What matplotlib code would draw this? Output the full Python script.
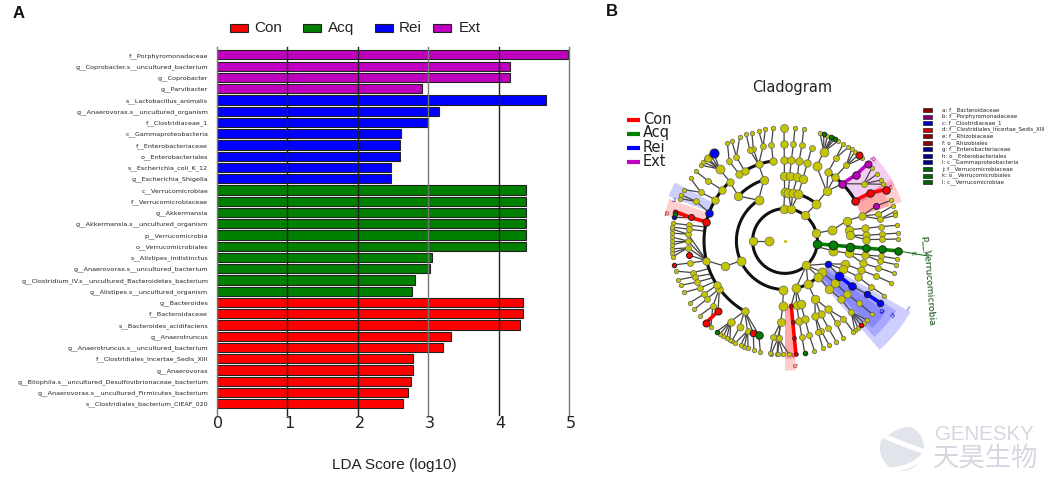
import numpy as np
import matplotlib
matplotlib.use("Agg")
import matplotlib.pyplot as plt
from matplotlib.patches import Rectangle, Ellipse, PathPatch
from matplotlib.path import Path
from matplotlib.transforms import ScaledTranslation

W, H = 1059, 478
COL = {"Con": "#ff0000", "Acq": "#008000", "Rei": "#0000ff", "Ext": "#bf00bf"}

# ---------- panel A data (top to bottom) ----------
taxa = ["f__Porphyromonadaceae", "g__Coprobacter.s__uncultured_bacterium", "g__Coprobacter", "g__Parvibacter",
        "s__Lactobacillus_animalis", "g__Anaerovorax.s__uncultured_organism", "f__Clostridiaceae_1",
        "c__Gammaproteobacteria", "f__Enterobacteriaceae", "o__Enterobacteriales", "s__Escherichia_coli_K_12",
        "g__Escherichia_Shigella", "c__Verrucomicrobiae", "f__Verrucomicrobiaceae", "g__Akkermansia",
        "g__Akkermansia.s__uncultured_organism", "p__Verrucomicrobia", "o__Verrucomicrobiales",
        "s__Alistipes_indistinctus", "g__Anaerovorax.s__uncultured_bacterium",
        "g__Clostridium_IV.s__uncultured_Bacteroidetes_bacterium", "g__Alistipes.s__uncultured_organism",
        "g__Bacteroides", "f__Bacteroidaceae", "s__Bacteroides_acidifaciens", "g__Anaerotruncus",
        "g__Anaerotruncus.s__uncultured_bacterium", "f__Clostridiales_Incertae_Sedis_XIII", "g__Anaerovorax",
        "g__Bilophila.s__uncultured_Desulfovibrionaceae_bacterium",
        "g__Anaerovorax.s__uncultured_Firmicutes_bacterium", "s__Clostridiales_bacterium_CIEAF_020"]
lda = [4.99, 4.17, 4.17, 2.91, 4.67, 3.15, 3.0, 2.62, 2.60, 2.60, 2.48, 2.47,
       4.39, 4.39, 4.39, 4.39, 4.39, 4.39, 3.06, 3.03, 2.82, 2.77,
       4.35, 4.35, 4.31, 3.33, 3.21, 2.79, 2.79, 2.76, 2.71, 2.65]
group = ["Ext"] * 4 + ["Rei"] * 8 + ["Acq"] * 10 + ["Con"] * 10
xticks = [0, 1, 2, 3, 4, 5]
xtick_cols = ["#777777", "#222222", "#222222", "#777777", "#222222", "#777777"]
legend_names = ["Con", "Acq", "Rei", "Ext"]

# ---------- panel B data: angle (deg clockwise from north), level ----------
Y, R, G, B, M = "y", "r", "g", "b", "m"
chains = [
    (Y, [(270, 2), (270, 1)]), (Y, [(270, 2), (270, 2)]),
    # top
    (Y, [(358, 2), (358, 2), (359.5, 3), (359.5, 4), (359.5, 5), (359.5, 6), (359.5, 7)]),
    (Y, [(11, 2), (11, 2)]),
    (Y, [(11, 2), (4, 3), (4, 4), (4.5, 5), (5, 6), (5, 7)]),
    (Y, [(11, 2), (9, 3), (11, 4), (10, 5), (10, 6), (9.5, 7)]),
    (Y, [(11, 2), (16, 3), (16, 4), (16, 5), (16, 6)]),
    (Y, [(38, 2), (38, 2), (40, 3), (40, 4)]),
    (Y, [(40, 4), (23, 5), (23.5, 6)]),
    (Y, [(23.5, 6), (18, 7)]), (Y, [(23.5, 6), (22, 7)]), (Y, [(23.5, 6), (25, 7)]), (Y, [(23.5, 6), (28, 7)]),
    (G, [(23.5, 6), (20, 7)]), (G, [(23.5, 6), (24, 7)]), (G, [(23.5, 6), (26, 7)]),
    (Y, [(40, 4), (32, 5), (31.5, 6), (31, 7)]), (Y, [(31.5, 6), (34, 7)]),
    (Y, [(40, 4), (38, 5), (39, 6)]),
    (Y, [(39, 6), (36, 7)]), (Y, [(39, 6), (38, 7)]), (Y, [(39, 6), (43, 7)]), (R, [(39, 6), (40.5, 7)]),
    (M, [(40, 4), (45, 5), (47, 6), (47, 7)]),
    (Y, [(45, 5), (54, 6)]),
    (Y, [(54, 6), (50, 7)]), (Y, [(54, 6), (54, 7)]), (Y, [(54, 6), (57.5, 7)]), (Y, [(54, 6), (60, 7)]),
    (R, [(45, 5), (60, 5), (60.5, 6), (63, 7)]),
    # right
    (Y, [(76, 2), (76, 2), (77, 3), (72, 4), (72, 5)]),
    (Y, [(72, 5), (74, 6), (72, 7)]), (Y, [(72, 5), (77, 6), (75, 7)]), (Y, [(77, 6), (77, 7)]),
    (M, [(72, 5), (69, 6)]), (Y, [(69, 6), (69, 7)]),
    (Y, [(72, 4), (80, 4), (81, 5), (81.5, 6), (82, 7)]),
    (Y, [(72, 4), (85, 4), (86, 5), (86, 6), (86, 7)]),
    (Y, [(85, 4), (89, 5), (89, 6), (89, 7)]),
    (G, [(95, 2), (95, 2), (95, 3), (95, 4), (95, 5), (95, 6), (95, 7)]),
    # lower right
    (Y, [(100, 2), (101.5, 3), (101, 4), (100, 5), (99, 6), (99, 7)]),
    (Y, [(100, 5), (102, 6), (102, 7)]),
    (Y, [(101, 4), (106, 5), (106, 6), (106.5, 7)]),
    (Y, [(139, 2), (139, 2)]),
    (B, [(139, 2), (118, 3)]),
    (Y, [(118, 3), (111, 4), (111, 5), (111, 6), (111.5, 7)]),
    (Y, [(118, 3), (116, 4), (116, 5), (118, 6), (118.8, 7)]),
    (B, [(118, 3), (123, 4), (124, 5)]),
    (B, [(124, 5), (123, 6), (123, 7)]),
    (Y, [(139, 2), (130, 3), (130, 4), (130.5, 5), (130, 6), (130, 7)]),
    (Y, [(139, 2), (137, 3), (137.6, 4), (136, 5), (137, 6)]),
    (Y, [(137, 6), (134, 7)]), (Y, [(137, 6), (136, 7)]), (Y, [(137, 6), (140, 7)]), (Y, [(137, 6), (142, 7)]),
    (R, [(137, 6), (138, 7)]),
    (Y, [(139, 2), (152, 3), (152.6, 4)]),
    (Y, [(152.6, 4), (147.6, 5), (143, 6), (143, 7)]), (Y, [(147.6, 5), (148, 6), (149, 7)]),
    (Y, [(152.6, 4), (154, 5), (153.5, 6), (153, 7)]),
    (Y, [(152.6, 4), (158, 5), (158, 6), (157, 7)]), (Y, [(158, 5), (160, 6), (160.5, 7)]),
    (Y, [(139, 2), (167, 3), (169.7, 4), (170, 5), (170, 6)]), (G, [(170, 6), (170, 7)]),
    (Y, [(167, 3), (166, 4), (165.6, 5), (165.6, 6), (165, 7)]),
    (R, [(167, 3), (174.5, 4), (174.5, 5), (174.5, 6), (174.5, 7)]),
    # bottom
    (Y, [(182, 3), (182, 3), (182, 4), (183, 5), (184, 6)]),
    (Y, [(184, 6), (178, 7)]), (Y, [(184, 6), (181, 7)]), (Y, [(184, 6), (184, 7)]), (Y, [(184, 6), (187, 7)]),
    (Y, [(183, 5), (187, 6), (187.5, 7)]),
    (Y, [(210, 5), (210, 5)]),
    (Y, [(210, 5), (207.8, 6), (208, 7)]),
    (Y, [(210, 5), (214, 6)]),
    (Y, [(214, 6), (209, 7)]), (Y, [(214, 6), (211, 7)]), (Y, [(214, 6), (213, 7)]), (Y, [(214, 6), (215, 7)]),
    (G, [(214, 6), (217, 7)]),
    (Y, [(210, 5), (202.6, 6)]),
    (Y, [(202.6, 6), (199, 7)]), (Y, [(202.6, 6), (201, 7)]), (Y, [(202.6, 6), (203, 7)]), (Y, [(202.6, 6), (206, 7)]),
    (R, [(210, 5), (199, 6)]), (Y, [(199, 6), (196, 7)]),
    (G, [(210, 5), (195.6, 6)]), (Y, [(195.6, 6), (192.6, 7)]),
    (Y, [(183, 5), (183.7, 6), (183.6, 7)]),
    # lower left
    (R, [(234, 5), (223.6, 6), (224, 7)]),
    (Y, [(234, 5), (228, 6), (228.8, 7)]), (Y, [(228, 6), (220.8, 7)]),
    (Y, [(237, 5), (236.8, 6), (237, 7)]), (Y, [(234, 5), (233.4, 6), (233, 7)]),
    (Y, [(234, 5), (234, 5)]), (Y, [(237, 5), (237, 5)]),
    (Y, [(246, 3), (246, 3), (247, 4), (256, 5)]),
    (Y, [(256, 5), (257, 6)]),
    (R, [(256, 5), (261.7, 6)]), (R, [(257, 6), (257.8, 7)]),
    (Y, [(250, 5), (251, 6), (254.6, 7)]), (Y, [(246, 5), (248.5, 6), (250, 7)]),
    (Y, [(243, 5), (245, 6), (247, 7)]), (Y, [(240, 5), (241, 6), (243, 7)]),
    (Y, [(256, 5), (266, 6)]), (Y, [(266, 6), (262, 7)]), (Y, [(266, 6), (264, 7)]), (Y, [(266, 6), (266, 7)]),
    (Y, [(256, 5), (270, 6)]), (Y, [(270, 6), (268, 7)]), (Y, [(270, 6), (270, 7)]), (Y, [(270, 6), (272, 7)]),
    (Y, [(256, 5), (274, 6)]), (Y, [(274, 6), (274, 7)]), (Y, [(274, 6), (276, 7)]),
    # upper left
    (Y, [(280, 5), (279.4, 6), (279, 7)]), (Y, [(277, 5), (277, 6), (277, 7)]),
    (R, [(283.6, 5), (283.6, 5), (284, 6), (285, 7)]),
    (B, [(284, 6), (282, 7)]), (G, [(284, 6), (284, 7)]),
    (B, [(290.5, 5), (290.5, 5)]),
    (Y, [(290.5, 5), (294, 6), (292, 7)]), (Y, [(294, 6), (294, 7)]),
    (Y, [(300.7, 5), (300.7, 5), (300, 6), (297, 7)]), (Y, [(300, 6), (303.6, 7)]),
    (Y, [(309, 5), (309, 5), (308, 6), (308, 7)]),
    (Y, [(327, 3), (327, 3), (314, 4)]),
    (Y, [(314, 4), (317, 5), (317.7, 6)]),
    (Y, [(317.7, 6), (312, 7)]), (Y, [(317.7, 6), (314, 7)]), (Y, [(317.7, 6), (316, 7)]),
    (Y, [(317.7, 6), (317, 7)]), (Y, [(317.7, 6), (319, 7)]), (B, [(317.7, 6), (321, 7)]),
    (Y, [(327, 3), (341, 4), (341, 5), (341, 6), (343, 7)]),
    (Y, [(325.7, 5), (325.7, 5), (325, 6), (329.5, 7)]),
    (Y, [(330, 5), (330, 5), (330, 6), (332, 7)]), (Y, [(330, 6), (336.5, 7)]),
    (Y, [(341, 5), (338.8, 6), (340, 7)]),
    (Y, [(341, 5), (347, 6), (346.6, 7)]), (Y, [(347, 6), (350, 7)]),
    (Y, [(351.5, 5), (351.5, 5), (352, 6), (354, 7)]),
]
arcs = [(2, 0, 360), (3, 182, 327), (3, 0, 40), (3, 130, 167), (4, 314, 341), (4, 72, 85),
        (5, 210, 283.6), (5, 283.6, 317), (5, 325.7, 351.5), (5, 32, 60)]
# wedge: group, angle start, angle end, inner level, outer level
wedges = [("Rei", 119.5, 139, 3.0, 8.9), ("Rei", 122, 137, 3.0, 8.1), ("Rei", 125, 135, 3.0, 7.6),
          ("Ext", 46, 63, 4.95, 7.6),
          ("Con", 60, 71.5, 4.95, 7.6), ("Con", 60, 71.5, 4.95, 6.8),
          ("Rei", 291, 298, 5.0, 7.7),
          ("Con", 282, 290, 5.0, 7.6),
          ("Con", 175, 180, 4.0, 8.0), ("Con", 175, 180, 4.0, 7.3)]
wedge_labels = [("i", 119, 8.6, "#0000aa"), ("h", 125, 8.0, "#0000aa"), ("g", 126, 7.3, "#0000aa"),
                ("a", 176, 7.0, "#aa0000"), ("b", 176, 7.7, "#aa0000"), ("c", 291, 7.3, "#0000aa"),
                ("d", 284, 7.5, "#aa0000"), ("e", 63, 7.3, "#aa0000"), ("b", 47, 7.45, "#aa00aa")]
key_labels = ["a: f__Bacteroidaceae", "b: f__Porphyromonadaceae", "c: f__Clostridiaceae_1",
              "d: f__Clostridiales_Incertae_Sedis_XIII", "e: f__Rhizobiaceae", "f: o__Rhizobiales",
              "g: f__Enterobacteriaceae", "h: o__Enterobacteriales", "i: c__Gammaproteobacteria",
              "j: f__Verrucomicrobiaceae", "k: o__Verrucomicrobiales", "l: c__Verrucomicrobiae"]
key_cols = ["#8b0000", "#800080", "#0000c0", "#cc0000", "#8b0000", "#8b0000",
            "#00008b", "#00008b", "#00008b", "#006400", "#006400", "#006400"]
level_diam = {0: 1.5, 1: 9, 2: 8.5, 3: 9, 4: 8.5, 5: 7.5, 6: 6, 7: 4.5}
big = {(23.5, 6): 9, (23, 5): 9, (317.7, 6): 9, (321, 7): 9, (317, 7): 7.5, (184, 6): 7, (183, 5): 8,
       (182, 4): 9, (95, 7): 7.5, (95, 6): 7.5, (47, 6): 7.5, (47, 7): 7, (60.5, 6): 7.5, (63, 7): 7.5,
       (40.5, 7): 7, (223.6, 6): 7, (224, 7): 7, (207.8, 6): 7, (199, 6): 6.5, (195.6, 6): 7.5, (214, 6): 7.5,
       (359.5, 7): 8, (359.5, 6): 7.5, (359.5, 5): 7.5, (123, 7): 6.5, (123, 6): 6.5, (174.5, 7): 3.5,
       (174.5, 6): 3.5, (174.5, 5): 3.5, (174.5, 4): 3.5, (118, 3): 6.5}
fill = {Y: "#c4c400", R: "#ff0000", G: "#008000", B: "#0000ff", M: "#bf00bf"}

# ---------- figure ----------
fig = plt.figure(figsize=(W / 100, H / 100), dpi=100)


def rect(x0, y0, x1, y1):
    return [x0 / W, 1 - y1 / H, (x1 - x0) / W, (y1 - y0) / H]


# panel A
ax = fig.add_axes(rect(216.5, 47, 569, 415))
ypos = np.arange(len(taxa))
ax.barh(ypos, lda, height=0.82, color=[COL[g] for g in group], edgecolor="#222222", linewidth=0.8, zorder=2)
ax.set_ylim(len(taxa), -0.7)
ax.set_xlim(0, 5)
for t, c in zip(xticks, xtick_cols):
    ax.axvline(t, color=c, lw=1.0, zorder=3, clip_on=False)
ax.set_yticks(ypos, taxa, fontsize=4.6, color="#222222")
ax.set_xticks(xticks)
ax.tick_params(axis="both", length=0)
ax.tick_params(axis="x", labelsize=11.5, pad=1, labelcolor="#222222")
ax.tick_params(axis="y", pad=6)
shift = ScaledTranslation(2 / 100, 0, fig.dpi_scale_trans)
for lab in ax.get_xticklabels():
    lab.set_transform(lab.get_transform() + shift)
for s in ax.spines.values():
    s.set_visible(False)

# panel B
pax = fig.add_axes(rect(785 - 154, 241 - 154, 785 + 154, 241 + 154), projection="polar")
pax.set_theta_zero_location("N")
pax.set_theta_direction(-1)
pax.set_rlim(0, 154 / 16.2)
pax.set_axis_off()
for g, a0, a1, r0, r1 in wedges:
    pax.bar(np.radians((a0 + a1) / 2), r1 - r0, width=np.radians(a1 - a0), bottom=r0,
            color=COL[g], alpha=0.19, linewidth=0, zorder=1)
for lev, a0, a1 in arcs:
    th = np.radians(np.linspace(a0, a1, 200))
    pax.plot(th, np.full_like(th, lev), color="#111111", lw=2.2, zorder=3)
for col, pts in chains:
    ang = np.radians([p[0] for p in pts])
    lev = [p[1] for p in pts]
    pax.plot(ang, lev, color="#444444", lw=0.9, zorder=2.5)
    if col != Y and len(pts) > 2:
        pax.plot(ang[1:], lev[1:], color=fill[col], lw=2.6, zorder=3.5)
for col, pts in chains:
    for a, l in pts[1:]:
        d = big.get((a, l), level_diam[l])
        pax.scatter(np.radians(a), l, s=(d * 0.72) ** 2, color=fill[col], edgecolor="#222222" if col != Y else "#666666",
                    linewidth=0.5 if col == Y else 0.7, zorder=4 if col == Y else 5)
pax.scatter([0], [0], s=1.5, color=fill[Y], zorder=4)
pax.plot(np.radians([95, 96]), [7, 8.9], color="#006400", lw=0.7, zorder=2, clip_on=False)
for t, a, l, c in wedge_labels:
    pax.text(np.radians(a), l, t, fontsize=5, color=c, ha="center", va="center", rotation=90 - a, zorder=6)

# page-level text and keys, in pixel coordinates
ov = fig.add_axes([0, 0, 1, 1], facecolor="none")
ov.set_xlim(0, W)
ov.set_ylim(H, 0)
ov.set_axis_off()
ARIAL = "Liberation Sans"
ov.text(13, 13, "A", fontsize=12, family=ARIAL, ha="left", va="center", color="#111111", fontweight="bold")
ov.text(606, 11, "B", fontsize=12, family=ARIAL, ha="left", va="center", color="#111111", fontweight="bold")
for name, x0, tx in zip(legend_names, [230, 303, 375, 433], [254, 328, 399, 459]):
    ov.add_patch(Rectangle((x0, 24), 18, 8, facecolor=COL[name], edgecolor="#222222", lw=0.8))
    ov.text(tx, 28, name, fontsize=11, family=ARIAL, ha="left", va="center", color="#222222")
ov.text(394, 465, "LDA Score (log10)", fontsize=11, family=ARIAL, ha="center", va="center", color="#222222")
ov.text(792, 87, "Cladogram", fontsize=10.5, ha="center", va="center", color="#222222")
for name, y in zip(legend_names, [119, 133, 147, 161]):
    ov.plot([627, 640], [y + 1, y + 1], color=COL[name], lw=3, solid_capstyle="butt")
    ov.text(643, y, name, fontsize=10.5, ha="left", va="center", color="#222222")
for i, (lab, c) in enumerate(zip(key_labels, key_cols)):
    y = 110 + i * 6.55
    ov.add_patch(Rectangle((923, y - 2), 9, 4, facecolor=c, edgecolor="#222222", lw=0.5))
    ov.text(942, y, lab, fontsize=3.95, ha="left", va="center", color="#222222")
ov.text(928, 281, "p__Verrucomicrobia", fontsize=6.6, color="#0b4d0b", rotation=-86, ha="center", va="center")
ov.text(913, 253, "k", fontsize=5, color="#0b4d0b", rotation=-85, ha="center", va="center")
ov.text(925, 251, "j", fontsize=4, color="#0b4d0b", rotation=-85, ha="center", va="center")

# watermark
wm = "#d5d8e1"
ov.add_patch(Ellipse((902, 448), 44, 46, facecolor="#e2e4ec", edgecolor="none"))
s = Path([(926, 424), (896, 422), (884, 436), (906, 446), (926, 452), (914, 470), (884, 470)],
         [Path.MOVETO, Path.CURVE3, Path.CURVE3, Path.CURVE3, Path.CURVE3, Path.CURVE3, Path.CURVE3])
ov.add_patch(PathPatch(s, facecolor="none", edgecolor="white", lw=3.5))
ov.text(935, 435, "GENESKY", fontsize=14.8, family=ARIAL, color=wm, ha="left", va="center")
ov.text(933, 458, "天昊生物", fontsize=19, family="Noto Sans CJK SC", color=wm, ha="left", va="center")

fig.savefig("out.png", dpi=100, facecolor="white")
